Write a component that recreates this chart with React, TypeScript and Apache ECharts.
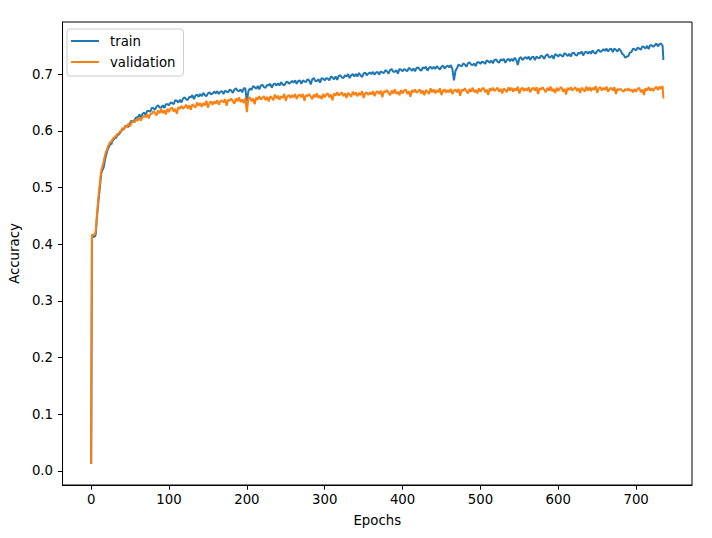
import React, { useEffect, useRef } from "react";
import * as echarts from "echarts";

const SERIES_NAMES = ["train", "validation"];
const X_TICKS = [0, 100, 200, 300, 400, 500, 600, 700];
const Y_TICKS = [0, 0.1, 0.2, 0.3, 0.4, 0.5, 0.6, 0.7];

const EPOCHS = [
  0, 1, 2, 3, 4, 5, 6, 7, 8, 9,
  10, 11, 12, 13, 14, 15, 16, 17, 18, 19,
  20, 21, 22, 23, 24, 25, 26, 27, 28, 29,
  30, 31, 32, 33, 34, 35, 36, 37, 38, 39,
  40, 42, 44, 46, 48, 50, 52, 54, 56, 58,
  60, 62, 64, 66, 68, 70, 72, 74, 76, 78,
  80, 82, 84, 86, 88, 90, 92, 94, 96, 98,
  100, 102, 104, 106, 108, 110, 112, 114, 116, 118,
  120, 122, 124, 126, 128, 130, 132, 134, 136, 138,
  140, 142, 144, 146, 148, 150, 152, 154, 156, 158,
  160, 162, 164, 166, 168, 170, 172, 174, 176, 178,
  180, 182, 184, 186, 188, 190, 192, 194, 196, 198,
  200, 202, 204, 206, 208, 210, 212, 214, 216, 218,
  220, 222, 224, 226, 228, 230, 232, 234, 236, 238,
  240, 242, 244, 246, 248, 250, 252, 254, 256, 258,
  260, 262, 264, 266, 268, 270, 272, 274, 276, 278,
  280, 282, 284, 286, 288, 290, 292, 294, 296, 298,
  300, 302, 304, 306, 308, 310, 312, 314, 316, 318,
  320, 322, 324, 326, 328, 330, 332, 334, 336, 338,
  340, 342, 344, 346, 348, 350, 352, 354, 356, 358,
  360, 362, 364, 366, 368, 370, 372, 374, 376, 378,
  380, 382, 384, 386, 388, 390, 392, 394, 396, 398,
  400, 402, 404, 406, 408, 410, 412, 414, 416, 418,
  420, 422, 424, 426, 428, 430, 432, 434, 436, 438,
  440, 442, 444, 446, 448, 450, 452, 454, 456, 458,
  460, 462, 464, 466, 468, 470, 472, 474, 476, 478,
  480, 482, 484, 486, 488, 490, 492, 494, 496, 498,
  500, 502, 504, 506, 508, 510, 512, 514, 516, 518,
  520, 522, 524, 526, 528, 530, 532, 534, 536, 538,
  540, 542, 544, 546, 548, 550, 552, 554, 556, 558,
  560, 562, 564, 566, 568, 570, 572, 574, 576, 578,
  580, 582, 584, 586, 588, 590, 592, 594, 596, 598,
  600, 602, 604, 606, 608, 610, 612, 614, 616, 618,
  620, 622, 624, 626, 628, 630, 632, 634, 636, 638,
  640, 642, 644, 646, 648, 650, 652, 654, 656, 658,
  660, 662, 664, 666, 668, 670, 672, 674, 676, 678,
  680, 682, 684, 686, 688, 690, 692, 694, 696, 698,
  700, 702, 704, 706, 708, 710, 712, 714, 716, 718,
  720, 722, 724, 726, 728, 730, 732, 734, 735,
];

const TRAIN_ACC = [
  0.012, 0.415, 0.414, 0.413, 0.413, 0.414, 0.418, 0.44, 0.455, 0.47,
  0.485, 0.497, 0.512, 0.524, 0.53, 0.532, 0.535, 0.542, 0.55, 0.556,
  0.561, 0.566, 0.569, 0.572, 0.575, 0.578, 0.576, 0.581, 0.583, 0.585,
  0.586, 0.588, 0.587, 0.591, 0.592, 0.594, 0.593, 0.597, 0.598, 0.6,
  0.604, 0.602, 0.609, 0.608, 0.607, 0.614, 0.618, 0.615, 0.62, 0.624,
  0.623, 0.629, 0.624, 0.63, 0.632, 0.628, 0.635, 0.635, 0.634, 0.641,
  0.64, 0.637, 0.643, 0.645, 0.641, 0.641, 0.645, 0.64, 0.647, 0.647,
  0.645, 0.65, 0.649, 0.647, 0.654, 0.653, 0.65, 0.655, 0.65, 0.657,
  0.659, 0.656, 0.654, 0.66, 0.659, 0.663, 0.656, 0.662, 0.664, 0.66,
  0.665, 0.661, 0.667, 0.663, 0.661, 0.666, 0.668, 0.664, 0.666, 0.669,
  0.666, 0.67, 0.665, 0.669, 0.67, 0.665, 0.671, 0.669, 0.668, 0.673,
  0.671, 0.667, 0.673, 0.675, 0.671, 0.67, 0.673, 0.668, 0.675, 0.675,
  0.652, 0.67, 0.675, 0.672, 0.679, 0.677, 0.674, 0.679, 0.673, 0.68,
  0.681, 0.677, 0.676, 0.681, 0.68, 0.683, 0.676, 0.682, 0.683, 0.68,
  0.684, 0.68, 0.686, 0.682, 0.68, 0.685, 0.687, 0.683, 0.685, 0.688,
  0.685, 0.689, 0.683, 0.688, 0.689, 0.683, 0.689, 0.687, 0.686, 0.691,
  0.689, 0.682, 0.691, 0.693, 0.688, 0.688, 0.691, 0.685, 0.693, 0.692,
  0.689, 0.693, 0.692, 0.689, 0.696, 0.694, 0.691, 0.696, 0.69, 0.697,
  0.698, 0.694, 0.693, 0.698, 0.696, 0.7, 0.693, 0.698, 0.7, 0.696,
  0.7, 0.696, 0.702, 0.698, 0.695, 0.701, 0.703, 0.698, 0.701, 0.703,
  0.7, 0.704, 0.699, 0.703, 0.704, 0.699, 0.705, 0.703, 0.702, 0.707,
  0.705, 0.701, 0.707, 0.709, 0.704, 0.704, 0.707, 0.701, 0.709, 0.708,
  0.705, 0.709, 0.707, 0.705, 0.711, 0.709, 0.706, 0.71, 0.705, 0.711,
  0.712, 0.708, 0.706, 0.712, 0.71, 0.713, 0.706, 0.711, 0.713, 0.709,
  0.713, 0.709, 0.714, 0.711, 0.708, 0.713, 0.715, 0.71, 0.713, 0.715,
  0.712, 0.716, 0.709, 0.689, 0.706, 0.711, 0.717, 0.715, 0.714, 0.719,
  0.717, 0.713, 0.719, 0.721, 0.717, 0.716, 0.719, 0.714, 0.721, 0.721,
  0.718, 0.722, 0.721, 0.718, 0.724, 0.723, 0.72, 0.724, 0.719, 0.725,
  0.726, 0.722, 0.72, 0.726, 0.724, 0.727, 0.72, 0.725, 0.727, 0.723,
  0.727, 0.723, 0.729, 0.725, 0.716, 0.728, 0.73, 0.725, 0.728, 0.73,
  0.727, 0.731, 0.725, 0.73, 0.731, 0.725, 0.731, 0.729, 0.728, 0.733,
  0.731, 0.727, 0.733, 0.735, 0.73, 0.73, 0.733, 0.727, 0.735, 0.734,
  0.731, 0.735, 0.733, 0.731, 0.737, 0.735, 0.732, 0.736, 0.731, 0.737,
  0.738, 0.734, 0.733, 0.738, 0.736, 0.74, 0.733, 0.738, 0.74, 0.736,
  0.74, 0.736, 0.742, 0.738, 0.736, 0.741, 0.743, 0.739, 0.741, 0.744,
  0.741, 0.745, 0.74, 0.744, 0.745, 0.739, 0.745, 0.743, 0.74, 0.745,
  0.742, 0.736, 0.734, 0.729, 0.731, 0.732, 0.738, 0.739, 0.745, 0.744,
  0.742, 0.747, 0.745, 0.743, 0.749, 0.748, 0.745, 0.75, 0.744, 0.751,
  0.751, 0.748, 0.751, 0.754, 0.749, 0.753, 0.754, 0.75, 0.725,
];

const VAL_ACC = [
  0.012, 0.416, 0.417, 0.416, 0.417, 0.418, 0.425, 0.446, 0.462, 0.478,
  0.493, 0.505, 0.519, 0.53, 0.535, 0.54, 0.545, 0.552, 0.558, 0.563,
  0.566, 0.57, 0.574, 0.576, 0.579, 0.581, 0.58, 0.584, 0.586, 0.588,
  0.587, 0.591, 0.59, 0.593, 0.595, 0.594, 0.597, 0.599, 0.598, 0.601,
  0.605, 0.603, 0.608, 0.607, 0.613, 0.608, 0.615, 0.617, 0.615, 0.62,
  0.618, 0.623, 0.618, 0.624, 0.626, 0.624, 0.629, 0.622, 0.63, 0.63,
  0.635, 0.631, 0.627, 0.636, 0.631, 0.639, 0.631, 0.636, 0.629, 0.639,
  0.633, 0.639, 0.641, 0.634, 0.639, 0.63, 0.642, 0.639, 0.644, 0.639,
  0.642, 0.646, 0.639, 0.645, 0.637, 0.647, 0.644, 0.641, 0.65, 0.644,
  0.649, 0.642, 0.649, 0.645, 0.653, 0.641, 0.649, 0.652, 0.646, 0.652,
  0.648, 0.654, 0.646, 0.652, 0.654, 0.65, 0.656, 0.644, 0.655, 0.653,
  0.657, 0.652, 0.648, 0.657, 0.652, 0.659, 0.651, 0.655, 0.649, 0.658,
  0.633, 0.657, 0.659, 0.652, 0.657, 0.647, 0.659, 0.655, 0.661, 0.655,
  0.658, 0.661, 0.654, 0.66, 0.652, 0.661, 0.658, 0.654, 0.664, 0.657,
  0.662, 0.655, 0.661, 0.658, 0.665, 0.653, 0.661, 0.663, 0.658, 0.663,
  0.659, 0.665, 0.656, 0.662, 0.664, 0.659, 0.665, 0.653, 0.663, 0.661,
  0.665, 0.66, 0.656, 0.664, 0.659, 0.666, 0.658, 0.662, 0.656, 0.665,
  0.659, 0.664, 0.666, 0.659, 0.664, 0.654, 0.666, 0.662, 0.668, 0.662,
  0.665, 0.668, 0.661, 0.666, 0.658, 0.667, 0.664, 0.66, 0.669, 0.663,
  0.668, 0.661, 0.667, 0.663, 0.67, 0.658, 0.666, 0.668, 0.663, 0.668,
  0.664, 0.67, 0.661, 0.668, 0.67, 0.665, 0.671, 0.659, 0.67, 0.668,
  0.672, 0.667, 0.663, 0.671, 0.666, 0.673, 0.665, 0.669, 0.663, 0.672,
  0.666, 0.671, 0.673, 0.665, 0.67, 0.66, 0.672, 0.668, 0.673, 0.667,
  0.67, 0.673, 0.666, 0.671, 0.663, 0.672, 0.669, 0.665, 0.675, 0.668,
  0.673, 0.666, 0.672, 0.668, 0.675, 0.663, 0.671, 0.673, 0.667, 0.672,
  0.668, 0.674, 0.665, 0.671, 0.673, 0.668, 0.674, 0.662, 0.673, 0.671,
  0.675, 0.67, 0.666, 0.674, 0.669, 0.676, 0.668, 0.672, 0.666, 0.675,
  0.669, 0.674, 0.676, 0.668, 0.673, 0.663, 0.675, 0.671, 0.676, 0.67,
  0.673, 0.676, 0.669, 0.674, 0.666, 0.675, 0.672, 0.668, 0.677, 0.671,
  0.676, 0.669, 0.675, 0.671, 0.678, 0.666, 0.674, 0.676, 0.67, 0.675,
  0.671, 0.677, 0.668, 0.674, 0.676, 0.671, 0.677, 0.665, 0.675, 0.673,
  0.677, 0.672, 0.668, 0.676, 0.671, 0.678, 0.67, 0.674, 0.667, 0.676,
  0.67, 0.675, 0.677, 0.669, 0.674, 0.664, 0.676, 0.672, 0.677, 0.671,
  0.674, 0.677, 0.67, 0.675, 0.667, 0.676, 0.673, 0.669, 0.678, 0.671,
  0.677, 0.67, 0.676, 0.672, 0.679, 0.667, 0.675, 0.677, 0.671, 0.676,
  0.672, 0.678, 0.669, 0.674, 0.676, 0.671, 0.677, 0.665, 0.674, 0.672,
  0.674, 0.671, 0.669, 0.674, 0.671, 0.675, 0.67, 0.673, 0.668, 0.674,
  0.669, 0.674, 0.676, 0.668, 0.673, 0.663, 0.675, 0.671, 0.677, 0.671,
  0.675, 0.67, 0.675, 0.678, 0.672, 0.678, 0.674, 0.679, 0.657,
];

const COLORS = ["#1f77b4", "#ff7f0e"];
const FONT = "DejaVu Sans";

export default function App() {
  const ref = useRef<HTMLDivElement>(null);

  useEffect(() => {
    document.body.style.margin = "0";
    if (!ref.current) return;
    const chart = echarts.init(ref.current, null, { renderer: "svg" });
    const toPairs = (vals: number[]) => {
      const n = Math.min(EPOCHS.length, vals.length);
      const out: number[][] = [];
      for (let i = 0; i < n; i++) out.push([EPOCHS[i], vals[i]]);
      return out;
    };
    const axisCommon = {
      axisLine: { show: true, onZero: false, lineStyle: { color: "#000", width: 1 } },
      splitLine: { show: false },
      nameLocation: "middle" as const,
      nameTextStyle: { fontFamily: FONT, fontSize: 13.3, color: "#000" },
    };
    chart.setOption({
      animation: false,
      backgroundColor: "#ffffff",
      color: COLORS,
      grid: {
        left: 59,
        right: 20,
        top: 22,
        bottom: 53,
        show: true,
        borderColor: "#000",
        borderWidth: 1,
        backgroundColor: "transparent",
      },
      legend: {
        data: SERIES_NAMES,
        left: 67,
        top: 29,
        orient: "vertical",
        icon: "rect",
        itemWidth: 28,
        itemHeight: 2,
        itemGap: 5,
        padding: [4, 8, 6, 4],
        borderColor: "#cccccc",
        borderWidth: 1,
        borderRadius: 3,
        backgroundColor: "rgba(255,255,255,0.8)",
        textStyle: {
          fontFamily: FONT,
          fontSize: 13.3,
          color: "#000",
          lineHeight: 16,
          padding: [0, 0, 0, 6],
        },
      },
      xAxis: {
        type: "value",
        min: -36.75,
        max: 771.75,
        name: "Epochs",
        nameGap: 29,
        ...axisCommon,
        axisTick: {
          show: true,
          customValues: X_TICKS,
          length: 4.7,
          lineStyle: { color: "#000", width: 1 },
        },
        axisLabel: {
          customValues: X_TICKS,
          margin: 8,
          fontFamily: FONT,
          fontSize: 13.3,
          color: "#000",
        },
      },
      yAxis: {
        type: "value",
        min: -0.025,
        max: 0.792,
        name: "Accuracy",
        nameGap: 38,
        nameRotate: 90,
        ...axisCommon,
        axisTick: {
          show: true,
          customValues: Y_TICKS,
          length: 4.7,
          lineStyle: { color: "#000", width: 1 },
        },
        axisLabel: {
          customValues: Y_TICKS,
          margin: 9.5,
          fontFamily: FONT,
          fontSize: 13.3,
          color: "#000",
          formatter: (v: number) => v.toFixed(1),
        },
      },
      series: [
        {
          name: SERIES_NAMES[0],
          type: "line",
          data: toPairs(TRAIN_ACC),
          showSymbol: false,
          symbol: "none",
          lineStyle: { width: 2, color: COLORS[0] },
          itemStyle: { color: COLORS[0] },
        },
        {
          name: SERIES_NAMES[1],
          type: "line",
          data: toPairs(VAL_ACC),
          showSymbol: false,
          symbol: "none",
          lineStyle: { width: 2, color: COLORS[1] },
          itemStyle: { color: COLORS[1] },
        },
      ],
    });
    return () => chart.dispose();
  }, []);

  return <div ref={ref} style={{ width: 712, height: 538 }} />;
}
